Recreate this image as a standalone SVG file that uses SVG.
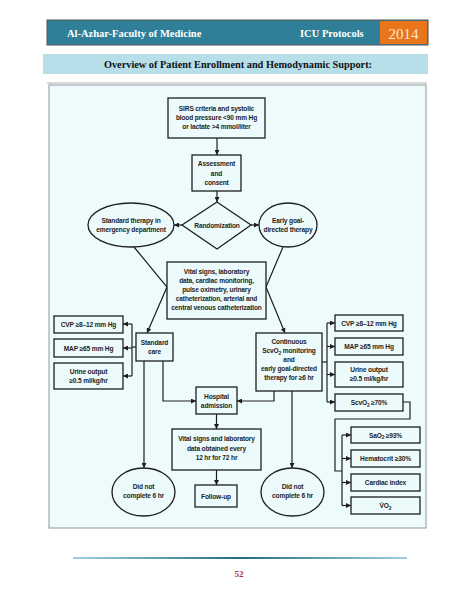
<svg xmlns="http://www.w3.org/2000/svg" width="474" height="613" viewBox="0 0 474 613">
<defs>
<marker id="ah" viewBox="0 0 10 10" refX="10" refY="5" markerWidth="5" markerHeight="5" orient="auto" markerUnits="userSpaceOnUse">
<path d="M0,0 L10,5 L0,10 z" fill="#1e1e1e"/>
</marker>
<linearGradient id="lg" x1="0" x2="1" y1="0" y2="0">
<stop offset="0" stop-color="#9fd0dc"/>
<stop offset="0.5" stop-color="#1f6f86"/>
<stop offset="1" stop-color="#9fd0dc"/>
</linearGradient>
</defs>
<style>
.hd{font-family:"Liberation Serif",serif;font-weight:bold;fill:#ffffff}
.tt{font-family:"Liberation Serif",serif;font-weight:bold;fill:#111}
.bx{fill:#ecfafb;stroke:#1e1e1e;stroke-width:1.3}
.t{font-family:"Liberation Sans",Arial,sans-serif;font-size:6.6px;fill:#1e1e1e;text-anchor:middle;font-weight:bold;letter-spacing:-0.15px}
.c{fill:none;stroke:#1e1e1e;stroke-width:1.2}
.a{marker-end:url(#ah)}
</style>
<rect width="474" height="613" fill="#ffffff"/>
<!-- header -->
<rect x="47" y="20" width="381" height="25" fill="#2f7f98" stroke="#555" stroke-width="1"/>
<rect x="380" y="21" width="47" height="23" fill="#e8751a"/>
<text class="hd" x="67" y="37" font-size="10.5">Al-Azhar-Faculty of Medicine</text>
<text class="hd" x="300" y="37" font-size="10.5">ICU Protocols</text>
<text x="403.5" y="39" font-size="15" font-family="Liberation Serif,serif" fill="#fbe9dc" text-anchor="middle">2014</text>
<rect x="43" y="54" width="385" height="20" fill="#b6dfe9"/>
<text class="tt" x="238" y="68" font-size="10.3" text-anchor="middle">Overview of Patient Enrollment and Hemodynamic Support:</text>
<line x1="47" y1="83" x2="427" y2="83" stroke="#b0b0b0" stroke-width="1"/>
<!-- panel -->
<rect x="49" y="85" width="377" height="443" fill="#eefbfc" stroke="#8a9a9c" stroke-width="1"/>

<g id="connectors">
<line class="c a" x1="217" y1="138" x2="217" y2="155"/>
<line class="c a" x1="217" y1="191" x2="217" y2="202"/>
<line class="c a" x1="182" y1="225" x2="174" y2="225"/>
<line class="c a" x1="251" y1="225" x2="259" y2="225"/>
<polyline class="c a" points="134,247 167,287 147,333"/>
<polyline class="c a" points="283,247 266,287 285,333"/>
<line class="c" x1="136" y1="347" x2="132" y2="347"/>
<line class="c" x1="132" y1="324" x2="132" y2="376"/>
<line class="c a" x1="132" y1="324" x2="123" y2="324"/>
<line class="c a" x1="132" y1="348" x2="123" y2="348"/>
<line class="c a" x1="132" y1="376" x2="123" y2="376"/>
<line class="c" x1="322" y1="362" x2="327" y2="362"/>
<line class="c" x1="327" y1="323" x2="327" y2="402"/>
<line class="c a" x1="327" y1="323" x2="335" y2="323"/>
<line class="c a" x1="327" y1="346.5" x2="335" y2="346.5"/>
<line class="c a" x1="327" y1="374.5" x2="335" y2="374.5"/>
<line class="c a" x1="327" y1="402" x2="335" y2="402"/>
<polyline class="c" points="403,402 410,402 410,419 335,419 335,471 342,471"/>
<line class="c" x1="342" y1="435" x2="342" y2="505.5"/>
<line class="c a" x1="342" y1="435" x2="351" y2="435"/>
<line class="c a" x1="342" y1="458.5" x2="351" y2="458.5"/>
<line class="c a" x1="342" y1="482.5" x2="351" y2="482.5"/>
<line class="c a" x1="342" y1="505.5" x2="351" y2="505.5"/>
<polyline class="c a" points="163,361 163,401 196,401"/>
<polyline class="c a" points="274,391 274,401 237,401"/>
<line class="c a" x1="144" y1="361" x2="144" y2="468"/>
<line class="c a" x1="292" y1="391" x2="292" y2="468"/>
<line class="c a" x1="216.5" y1="414" x2="216.5" y2="429"/>
<line class="c a" x1="216.5" y1="470" x2="216.5" y2="485"/>
</g>

<g id="sirs"><rect class="bx" x="168" y="98" width="97" height="40"/>
<text class="t" x="216.5" y="111">SIRS criteria and systolic</text>
<text class="t" x="216.5" y="120">blood pressure &lt;90 mm Hg</text>
<text class="t" x="216.5" y="129">or lactate &gt;4 mmol/liter</text></g>

<g id="assessment"><rect class="bx" x="192" y="155" width="49" height="36"/>
<text class="t" x="216.5" y="166">Assessment</text>
<text class="t" x="216.5" y="175.5">and</text>
<text class="t" x="216.5" y="185">consent</text></g>

<g id="randomization"><polygon class="bx" points="217,202 251,225 217,249 182,225"/>
<text class="t" x="217" y="227.5">Randomization</text></g>

<g id="standard-therapy"><ellipse class="bx" cx="131" cy="225" rx="43" ry="22"/>
<text class="t" x="131" y="223">Standard therapy in</text>
<text class="t" x="131" y="232">emergency department</text></g>

<g id="early-goal"><ellipse class="bx" cx="288" cy="225" rx="29" ry="22"/>
<text class="t" x="288" y="223">Early goal-</text>
<text class="t" x="288" y="232">directed therapy</text></g>

<g id="vital"><rect class="bx" x="167" y="262" width="99" height="57"/>
<text class="t" x="216.5" y="274">Vital signs, laboratory</text>
<text class="t" x="216.5" y="283">data, cardiac monitoring,</text>
<text class="t" x="216.5" y="292">pulse oximetry, urinary</text>
<text class="t" x="216.5" y="301">catheterization, arterial and</text>
<text class="t" x="216.5" y="310">central venous catheterization</text></g>

<g id="standard-care"><rect class="bx" x="136" y="333" width="37" height="28"/>
<text class="t" x="154.5" y="345">Standard</text>
<text class="t" x="154.5" y="354">care</text></g>

<g id="l-cvp"><rect class="bx" x="54" y="316" width="69" height="17"/>
<text class="t" x="88.5" y="327">CVP ≥8–12 mm Hg</text></g>
<g id="l-map"><rect class="bx" x="54" y="339" width="69" height="18"/>
<text class="t" x="88.5" y="350.5">MAP ≥65 mm Hg</text></g>
<g id="l-urine"><rect class="bx" x="54" y="363" width="69" height="26"/>
<text class="t" x="88.5" y="373.5">Urine output</text>
<text class="t" x="88.5" y="382.5">≥0.5 ml/kg/hr</text></g>

<g id="continuous"><rect class="bx" x="256" y="333" width="66" height="58"/>
<text class="t" x="289" y="344">Continuous</text>
<text class="t" x="289" y="353">ScvO<tspan font-size="4.8" dy="1.5">2</tspan><tspan dy="-1.5"> monitoring</tspan></text>
<text class="t" x="289" y="362">and</text>
<text class="t" x="289" y="371">early goal-directed</text>
<text class="t" x="289" y="380">therapy for ≥6 hr</text></g>

<g id="r-cvp"><rect class="bx" x="335" y="315" width="68" height="16"/>
<text class="t" x="369" y="325.5">CVP ≥8–12 mm Hg</text></g>
<g id="r-map"><rect class="bx" x="335" y="338" width="68" height="17"/>
<text class="t" x="369" y="349">MAP ≥65 mm Hg</text></g>
<g id="r-urine"><rect class="bx" x="335" y="362" width="68" height="25"/>
<text class="t" x="369" y="372">Urine output</text>
<text class="t" x="369" y="381">≥0.5 ml/kg/hr</text></g>
<g id="r-scvo2"><rect class="bx" x="335" y="394" width="68" height="17"/>
<text class="t" x="369" y="405">ScvO<tspan font-size="4.8" dy="1.5">2</tspan><tspan dy="-1.5"> ≥70%</tspan></text></g>

<g id="sao2"><rect class="bx" x="351" y="427" width="69" height="16"/>
<text class="t" x="385.5" y="437.5">SaO<tspan font-size="4.8" dy="1.5">2</tspan><tspan dy="-1.5"> ≥93%</tspan></text></g>
<g id="hematocrit"><rect class="bx" x="351" y="450" width="69" height="17"/>
<text class="t" x="385.5" y="461">Hematocrit ≥30%</text></g>
<g id="cardiac"><rect class="bx" x="351" y="474" width="69" height="17"/>
<text class="t" x="385.5" y="485">Cardiac index</text></g>
<g id="vo2"><rect class="bx" x="351" y="497" width="69" height="17"/>
<text class="t" x="385.5" y="508">V̇O<tspan font-size="4.8" dy="1.5">2</tspan></text></g>

<g id="hospital"><rect class="bx" x="196" y="387" width="41" height="27"/>
<text class="t" x="216.5" y="398.5">Hospital</text>
<text class="t" x="216.5" y="408">admission</text></g>

<g id="vital2"><rect class="bx" x="172" y="429" width="89" height="41"/>
<text class="t" x="216.5" y="441">Vital signs and laboratory</text>
<text class="t" x="216.5" y="450.5">data obtained every</text>
<text class="t" x="216.5" y="460">12 hr for 72 hr</text></g>

<g id="followup"><rect class="bx" x="195" y="485" width="42" height="22"/>
<text class="t" x="216" y="498.5">Follow-up</text></g>

<g id="dnc-left"><ellipse class="bx" cx="143.5" cy="492" rx="31.5" ry="24"/>
<text class="t" x="143.5" y="489">Did not</text>
<text class="t" x="143.5" y="498">complete 6 hr</text></g>

<g id="dnc-right"><ellipse class="bx" cx="292.5" cy="492" rx="31.5" ry="24"/>
<text class="t" x="292.5" y="489">Did not</text>
<text class="t" x="292.5" y="498">complete 6 hr</text></g>

<!-- footer -->
<rect x="73" y="557" width="334" height="2" fill="url(#lg)"/>
<text x="239" y="577" font-family="Liberation Serif,serif" font-weight="bold" font-size="9" fill="#b0332f" text-anchor="middle">52</text>
</svg>
